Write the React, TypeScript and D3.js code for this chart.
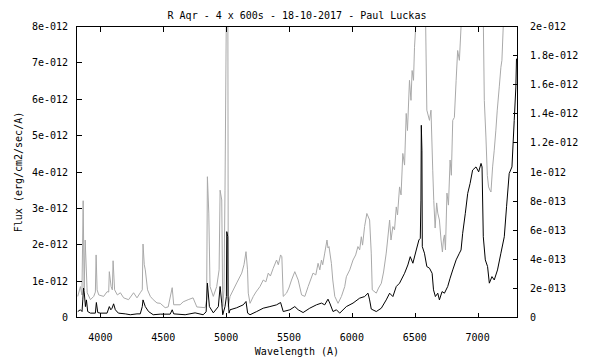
import React from "react";
import * as d3 from "d3";

const title = "R Aqr - 4 x 600s - 18-10-2017 - Paul Luckas";
const xLabel = "Wavelength (A)";
const yLabel = "Flux (erg/cm2/sec/A)";

const xTicks = [4000, 4500, 5000, 5500, 6000, 6500, 7000];
const yLeftTicks = [0, 1, 2, 3, 4, 5, 6, 7, 8];
const yLeftLabels = ["0", "1e-012", "2e-012", "3e-012", "4e-012", "5e-012", "6e-012", "7e-012", "8e-012"];
const yRightTicks = [0, 0.2, 0.4, 0.6, 0.8, 1.0, 1.2, 1.4, 1.6, 1.8, 2.0];
const yRightLabels = ["0", "2e-013", "4e-013", "6e-013", "8e-013", "1e-012", "1.2e-012", "1.4e-012", "1.6e-012", "1.8e-012", "2e-012"];

// gray spectrum: [wavelength (A), flux in 1e-12 erg/cm2/sec/A] (left axis)
const graySpectrum: [number, number][] = [
  [3820, 0.58], [3841, 0.85], [3853, 0.62], [3863, 3.21], [3871, 0.76], [3879, 2.13], [3895, 0.68], [3921, 0.49],
  [3947, 0.58], [3960, 0.70], [3966, 1.72], [3974, 0.76], [3987, 0.62], [4026, 0.58], [4053, 0.71], [4066, 0.70],
  [4071, 1.26], [4085, 0.85], [4095, 0.76], [4101, 1.56], [4113, 0.76], [4135, 0.62], [4159, 0.68], [4185, 0.54],
  [4224, 0.49], [4264, 0.68], [4291, 0.54], [4317, 0.68], [4333, 0.76], [4339, 2.02], [4349, 1.45], [4357, 1.31],
  [4375, 0.76], [4397, 0.58], [4420, 0.49], [4450, 0.40], [4476, 0.39], [4515, 0.27], [4539, 0.29], [4571, 0.82],
  [4583, 0.35], [4634, 0.35], [4658, 0.43], [4698, 0.49], [4737, 0.54], [4767, 0.29], [4833, 0.27], [4845, 0.49],
  [4851, 3.87], [4862, 2.87], [4872, 0.85], [4898, 0.58], [4925, 0.85], [4944, 1.31], [4952, 3.50], [4965, 3.23],
  [4973, 0.30], [4983, 0.76], [4991, 3.50], [5005, 10], [5013, 10], [5017, 0.30], [5031, 0.58], [5084, 0.95],
  [5124, 1.22], [5142, 1.45], [5158, 1.81], [5170, 1.31], [5176, 0.67], [5190, 0.39], [5216, 0.58], [5237, 0.70],
  [5269, 0.85], [5295, 1.03], [5316, 0.98], [5335, 1.22], [5352, 1.14], [5374, 1.35], [5401, 1.58], [5415, 1.45],
  [5433, 1.72], [5443, 1.67], [5454, 0.58], [5480, 0.67], [5499, 0.81], [5520, 1.03], [5546, 1.26], [5573, 1.03],
  [5600, 0.62], [5626, 0.58], [5652, 0.85], [5691, 1.22], [5713, 1.17], [5731, 1.49], [5745, 1.31], [5758, 1.58],
  [5768, 1.45], [5784, 1.77], [5802, 2.13], [5810, 1.91], [5818, 1.95], [5837, 1.49], [5848, 1.03], [5864, 0.58],
  [5890, 0.39], [5917, 0.58], [5943, 0.85], [5956, 1.12], [5983, 1.31], [6009, 1.58], [6030, 1.72], [6048, 1.95],
  [6062, 1.86], [6075, 2.22], [6085, 1.99], [6101, 2.50], [6119, 2.86], [6141, 2.68], [6154, 1.77], [6162, 0.76],
  [6194, 0.67], [6212, 0.81], [6234, 0.94], [6252, 1.25], [6273, 1.77], [6284, 2.13], [6300, 2.68], [6311, 2.13],
  [6326, 2.50], [6339, 2.41], [6353, 3.04], [6363, 2.82], [6379, 3.59], [6391, 3.37], [6405, 4.51], [6419, 4.19],
  [6432, 5.61], [6442, 5.14], [6458, 6.52], [6470, 5.97], [6479, 6.79], [6490, 6.52], [6498, 7.43], [6516, 8.5],
  [6538, 9], [6554, 10], [6570, 9], [6586, 8.2], [6596, 5.70], [6617, 5.42], [6629, 5.70], [6643, 4.05],
  [6651, 3.22], [6662, 2.46], [6674, 3.15], [6683, 2.87], [6696, 2.68], [6709, 2.13], [6720, 1.80], [6728, 2.13],
  [6736, 2.27], [6744, 1.86], [6756, 3.42], [6768, 3.09], [6781, 4.33], [6791, 3.91], [6802, 5.42], [6815, 5.50],
  [6829, 6.52], [6841, 7.34], [6855, 7.07], [6871, 8.2], [6894, 10], [6958, 12], [7013, 11], [7045, 8.2],
  [7053, 5.97], [7066, 4.96], [7077, 3.91], [7087, 3.59], [7098, 3.50], [7106, 3.45], [7119, 4.14], [7132, 4.60],
  [7145, 5.15], [7156, 5.70], [7172, 6.34], [7185, 6.88], [7193, 7.07], [7206, 8.2], [7219, 10], [7267, 12], [7315, 13],
];

// black spectrum: [wavelength (A), flux in 1e-12 erg/cm2/sec/A] (right axis)
const blackSpectrum: [number, number][] = [
  [3820, 0.041], [3841, 0.053], [3854, 0.041], [3860, 0.121], [3866, 0.202], [3872, 0.169], [3881, 0.075], [3889, 0.121],
  [3899, 0.041], [3921, 0.030], [3960, 0.030], [3968, 0.103], [3979, 0.034], [4000, 0.030], [4053, 0.030], [4071, 0.075],
  [4083, 0.053], [4093, 0.064], [4105, 0.094], [4119, 0.053], [4143, 0.030], [4198, 0.025], [4238, 0.019], [4291, 0.025],
  [4317, 0.025], [4333, 0.075], [4339, 0.121], [4357, 0.075], [4383, 0.041], [4420, 0.019], [4476, 0.023], [4555, 0.023],
  [4571, 0.053], [4583, 0.025], [4674, 0.019], [4753, 0.032], [4817, 0.019], [4841, 0.039], [4851, 0.236], [4867, 0.075],
  [4898, 0.032], [4938, 0.075], [4952, 0.213], [4965, 0.099], [4973, 0.019], [4991, 0.075], [5002, 0.144], [5005, 0.590],
  [5013, 0.555], [5015, 0.144], [5023, 0.030], [5031, 0.053], [5084, 0.067], [5136, 0.087], [5158, 0.110], [5171, 0.030],
  [5190, 0.019], [5243, 0.041], [5295, 0.064], [5348, 0.075], [5401, 0.087], [5433, 0.103], [5454, 0.041], [5507, 0.053],
  [5546, 0.075], [5573, 0.053], [5612, 0.034], [5665, 0.064], [5718, 0.087], [5758, 0.099], [5784, 0.087], [5810, 0.126],
  [5824, 0.099], [5850, 0.041], [5877, 0.053], [5903, 0.030], [5956, 0.075], [6009, 0.099], [6062, 0.133], [6101, 0.144],
  [6128, 0.167], [6141, 0.121], [6154, 0.058], [6194, 0.041], [6234, 0.064], [6273, 0.121], [6300, 0.167], [6326, 0.144],
  [6353, 0.213], [6379, 0.236], [6419, 0.304], [6445, 0.361], [6464, 0.418], [6485, 0.373], [6512, 0.464], [6533, 0.533],
  [6544, 0.544], [6549, 0.807], [6552, 1.321], [6557, 1.150], [6560, 0.487], [6577, 0.442], [6596, 0.350], [6617, 0.339],
  [6638, 0.304], [6649, 0.190], [6664, 0.144], [6683, 0.167], [6696, 0.121], [6717, 0.178], [6736, 0.167], [6762, 0.213],
  [6781, 0.270], [6802, 0.327], [6829, 0.396], [6855, 0.442], [6868, 0.464], [6881, 0.579], [6902, 0.716], [6921, 0.853],
  [6940, 0.921], [6960, 1.013], [6987, 1.035], [7008, 1.001], [7027, 1.059], [7035, 1.035], [7045, 0.555], [7061, 0.396],
  [7079, 0.350], [7093, 0.236], [7114, 0.281], [7132, 0.258], [7158, 0.327], [7185, 0.442], [7212, 0.555], [7230, 0.761],
  [7251, 0.990], [7273, 1.035], [7291, 1.355], [7304, 1.584], [7309, 1.779],
];

const W = 600;
const H = 360;
const L = 76.5, R = 517.5, T = 26.5, B = 317.5;
const FONT = "'DejaVu Sans Mono', monospace";

export default function App() {
  const x = d3.scaleLinear().domain([3810, 7317]).range([L, R]);
  const yL = d3.scaleLinear().domain([0, 8]).range([B, T]);
  const yR = d3.scaleLinear().domain([0, 2]).range([B, T]);

  const grayLine = d3.line<[number, number]>().x((d) => x(d[0])).y((d) => yL(d[1]));
  const blackLine = d3.line<[number, number]>().x((d) => x(d[0])).y((d) => yR(d[1]));
  const tick = 5;

  return (
    <svg
      width={W}
      height={H}
      style={{ position: "absolute", left: 0, top: 0, background: "#fff" }}
      fontFamily={FONT}
      fontSize={10}
    >
      <rect x={0} y={0} width={W} height={H} fill="#fff" />
      <defs>
        <clipPath id="plot">
          <rect x={L} y={T} width={R - L} height={B - T} />
        </clipPath>
      </defs>
      <g clipPath="url(#plot)">
        <path d={grayLine(graySpectrum) || ""} fill="none" stroke="#a9a9a9" strokeWidth={1} />
        <path d={blackLine(blackSpectrum) || ""} fill="none" stroke="#000" strokeWidth={1} />
      </g>
      {/* ticks */}
      <g stroke="#000" strokeWidth={1} shapeRendering="crispEdges">
        {xTicks.map((t) => (
          <g key={"xt" + t}>
            <line x1={Math.round(x(t)) + 0.5} x2={Math.round(x(t)) + 0.5} y1={B} y2={B - tick} />
            <line x1={Math.round(x(t)) + 0.5} x2={Math.round(x(t)) + 0.5} y1={T} y2={T + tick} />
          </g>
        ))}
        {yLeftTicks.map((t) => (
          <line key={"yl" + t} x1={L} x2={L + tick} y1={Math.round(yL(t) - 0.5) + 0.5} y2={Math.round(yL(t) - 0.5) + 0.5} />
        ))}
        {yRightTicks.map((t) => (
          <line key={"yr" + t} x1={R} x2={R - tick} y1={Math.round(yR(t) - 0.5) + 0.5} y2={Math.round(yR(t) - 0.5) + 0.5} />
        ))}
        <rect x={L} y={T} width={R - L} height={B - T} fill="none" />
      </g>
      {/* tick labels */}
      <g fill="#000">
        {xTicks.map((t) => (
          <text key={"xl" + t} x={x(t)} y={337} textAnchor="middle" dominantBaseline="central">
            {String(t)}
          </text>
        ))}
        {yLeftTicks.map((t, i) => (
          <text key={"yll" + t} x={68} y={yL(t)} textAnchor="end" dominantBaseline="central">
            {yLeftLabels[i]}
          </text>
        ))}
        {yRightTicks.map((t, i) => (
          <text key={"yrl" + t} x={530} y={yR(t)} textAnchor="start" dominantBaseline="central">
            {yRightLabels[i]}
          </text>
        ))}
        <text x={297} y={15} textAnchor="middle" dominantBaseline="central">
          {title}
        </text>
        <text x={297} y={351} textAnchor="middle" dominantBaseline="central">
          {xLabel}
        </text>
        <text
          transform={`translate(18,172) rotate(-90)`}
          textAnchor="middle"
          dominantBaseline="central"
        >
          {yLabel}
        </text>
      </g>
    </svg>
  );
}
